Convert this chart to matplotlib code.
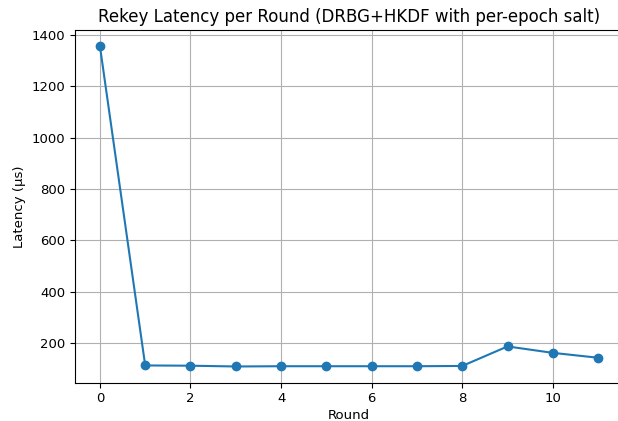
import matplotlib
matplotlib.use("Agg")
import matplotlib.pyplot as plt

rounds = list(range(12))
latency_us = [1356, 113, 112, 109, 110, 110, 110, 110, 111, 187, 162, 143]

fig = plt.figure(figsize=(6.18, 4.21), dpi=100)
W, H = 618, 421
left, right, top, bottom = 75, 623, 30, 382.5
ax = fig.add_axes([left / W, (H - bottom) / H, (right - left) / W, (bottom - top) / H])
ax.plot(rounds, latency_us, marker='o', color='#1f77b4')
ax.set_title("Rekey Latency per Round (DRBG+HKDF with per-epoch salt)", fontsize=12)
ax.set_xlabel("Round", fontsize=9.5, labelpad=2.5)
ax.set_ylabel("Latency (µs)", fontsize=9.5)
ax.tick_params(labelsize=9.5)
ax.grid(True)
fig.savefig("out.png", dpi=100)
